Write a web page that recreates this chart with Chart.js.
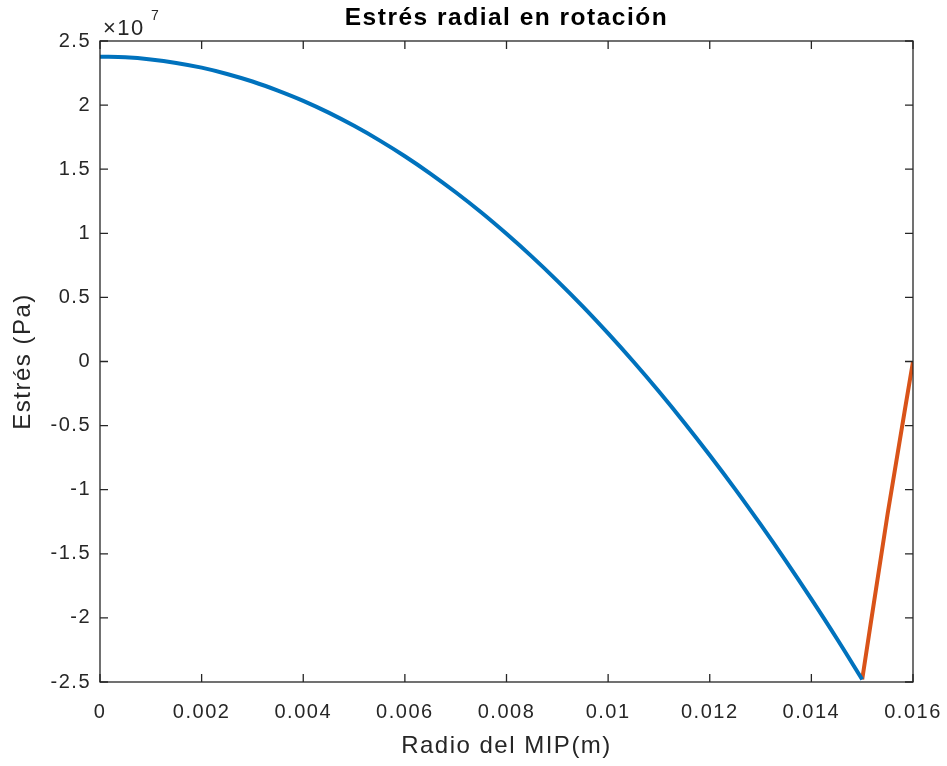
<!DOCTYPE html>
<html>
<head>
<meta charset="utf-8">
<script src="https://cdn.jsdelivr.net/npm/chart.js@4/dist/chart.umd.min.js"></script>
<style>
  html, body { margin: 0; padding: 0; background: #ffffff; }
  canvas { display: block; }
</style>
</head>
<body>
<canvas id="chart" width="947" height="766"></canvas>
<script>
// Radial stress inside the rotating part (inner region), r in metres, stress in Pa
const radioInterior = [
  0, 0.0005, 0.001, 0.0015, 0.002, 0.0025, 0.003, 0.0035, 0.004, 0.0045,
  0.005, 0.0055, 0.006, 0.0065, 0.007, 0.0075, 0.008, 0.0085, 0.009, 0.0095,
  0.01, 0.0105, 0.011, 0.0115, 0.012, 0.0125, 0.013, 0.0135, 0.014, 0.0145, 0.015
];
const estresInterior = [
  2.378e7, 2.373e7, 2.356e7, 2.329e7, 2.292e7, 2.243e7, 2.184e7, 2.113e7, 2.033e7, 1.941e7,
  1.838e7, 1.725e7, 1.601e7, 1.466e7, 1.320e7, 1.164e7, 0.996e7, 0.818e7, 0.629e7, 0.430e7,
  0.219e7, -0.002e7, -0.234e7, -0.477e7, -0.731e7, -0.995e7, -1.271e7, -1.557e7, -1.854e7, -2.161e7, -2.48e7
];

// Outer ring
const radioExterior = [0.015, 0.0155, 0.016];
const estresExterior = [-2.48e7, -1.19e7, 0];

// Axis ticks
const xTicks = [0, 0.002, 0.004, 0.006, 0.008, 0.01, 0.012, 0.014, 0.016];
const yTicks = [-2.5e7, -2e7, -1.5e7, -1e7, -0.5e7, 0, 0.5e7, 1e7, 1.5e7, 2e7, 2.5e7];

const FONT = '"Liberation Sans", Arial, Helvetica, sans-serif';
const INK = '#262626';
const SPACING = '1.5px';

function toPoints(xs, ys) {
  return xs.map((x, i) => ({ x: x, y: ys[i] }));
}

// Loose letter spacing for all canvas text
const spacing = {
  id: 'spacing',
  beforeUpdate(chart) { chart.ctx.letterSpacing = SPACING; },
  beforeLayout(chart) { chart.ctx.letterSpacing = SPACING; },
  beforeDraw(chart) { chart.ctx.letterSpacing = SPACING; }
};

// Box around the axes with inward tick marks on all four sides, plus the exponent label
const frame = {
  id: 'frame',
  afterDatasetsDraw(chart) {
    const { ctx, chartArea: a, scales: { x, y } } = chart;
    ctx.save();
    ctx.strokeStyle = INK;
    ctx.lineWidth = 1.3;
    ctx.strokeRect(a.left, a.top, a.right - a.left, a.bottom - a.top);
    ctx.beginPath();
    x.ticks.forEach(t => {
      const p = x.getPixelForValue(t.value);
      ctx.moveTo(p, a.bottom); ctx.lineTo(p, a.bottom - 8);
      ctx.moveTo(p, a.top); ctx.lineTo(p, a.top + 8);
    });
    y.ticks.forEach(t => {
      const p = y.getPixelForValue(t.value);
      ctx.moveTo(a.left, p); ctx.lineTo(a.left + 8, p);
      ctx.moveTo(a.right, p); ctx.lineTo(a.right - 8, p);
    });
    ctx.stroke();

    ctx.fillStyle = INK;
    ctx.textAlign = 'left';
    ctx.textBaseline = 'alphabetic';
    ctx.letterSpacing = SPACING;
    ctx.font = '22px ' + FONT;
    ctx.fillText('\u00d710', a.left + 3, a.top - 6);
    ctx.font = '14px ' + FONT;
    ctx.fillText('7', a.left + 51, a.top - 21);
    ctx.restore();
  }
};

new Chart(document.getElementById('chart'), {
  type: 'line',
  data: {
    datasets: [
      {
        data: toPoints(radioInterior, estresInterior),
        borderColor: '#0072BD',
        borderWidth: 4,
        pointRadius: 0,
        cubicInterpolationMode: 'monotone',
        fill: false
      },
      {
        data: toPoints(radioExterior, estresExterior),
        borderColor: '#D95319',
        borderWidth: 4,
        pointRadius: 0,
        cubicInterpolationMode: 'monotone',
        fill: false
      }
    ]
  },
  options: {
    responsive: false,
    animation: false,
    events: [],
    layout: { padding: { left: 0, right: 34, top: 0, bottom: 0 } },
    plugins: {
      legend: { display: false },
      tooltip: { enabled: false },
      title: {
        display: true,
        text: 'Estrés radial en rotación',
        color: '#000000',
        fullSize: false,
        font: { family: FONT, size: 24.5, weight: 'bold' },
        padding: { top: 3.5, bottom: 8.1 }
      }
    },
    scales: {
      x: {
        type: 'linear',
        min: 0,
        max: 0.016,
        grid: { display: false, drawTicks: false },
        border: { display: false },
        afterBuildTicks(scale) { scale.ticks = xTicks.map(v => ({ value: v })); },
        afterFit(scale) {
          scale.height = 84;
          scale.paddingLeft = 0;
          scale.paddingRight = 0;
        },
        ticks: {
          color: INK,
          padding: 18.5,
          maxRotation: 0,
          font: { family: FONT, size: 20 },
          callback: v => String(Number(v.toFixed(3)))
        },
        title: {
          display: true,
          text: 'Radio del MIP(m)',
          color: INK,
          font: { family: FONT, size: 24 },
          padding: { top: 0, bottom: 5.6 }
        }
      },
      y: {
        type: 'linear',
        min: -2.5e7,
        max: 2.5e7,
        grid: { display: false, drawTicks: false },
        border: { display: false },
        afterBuildTicks(scale) { scale.ticks = yTicks.map(v => ({ value: v })); },
        afterFit(scale) {
          scale.width = 100;
          scale.paddingTop = 0;
          scale.paddingBottom = 0;
        },
        ticks: {
          color: INK,
          padding: 9,
          font: { family: FONT, size: 20 },
          callback: v => String(Number((v / 1e7).toFixed(1)))
        },
        title: {
          display: true,
          text: 'Estrés (Pa)',
          color: INK,
          font: { family: FONT, size: 24 },
          padding: { top: 9, bottom: 0 }
        }
      }
    }
  },
  plugins: [spacing, frame]
});
</script>
</body>
</html>
